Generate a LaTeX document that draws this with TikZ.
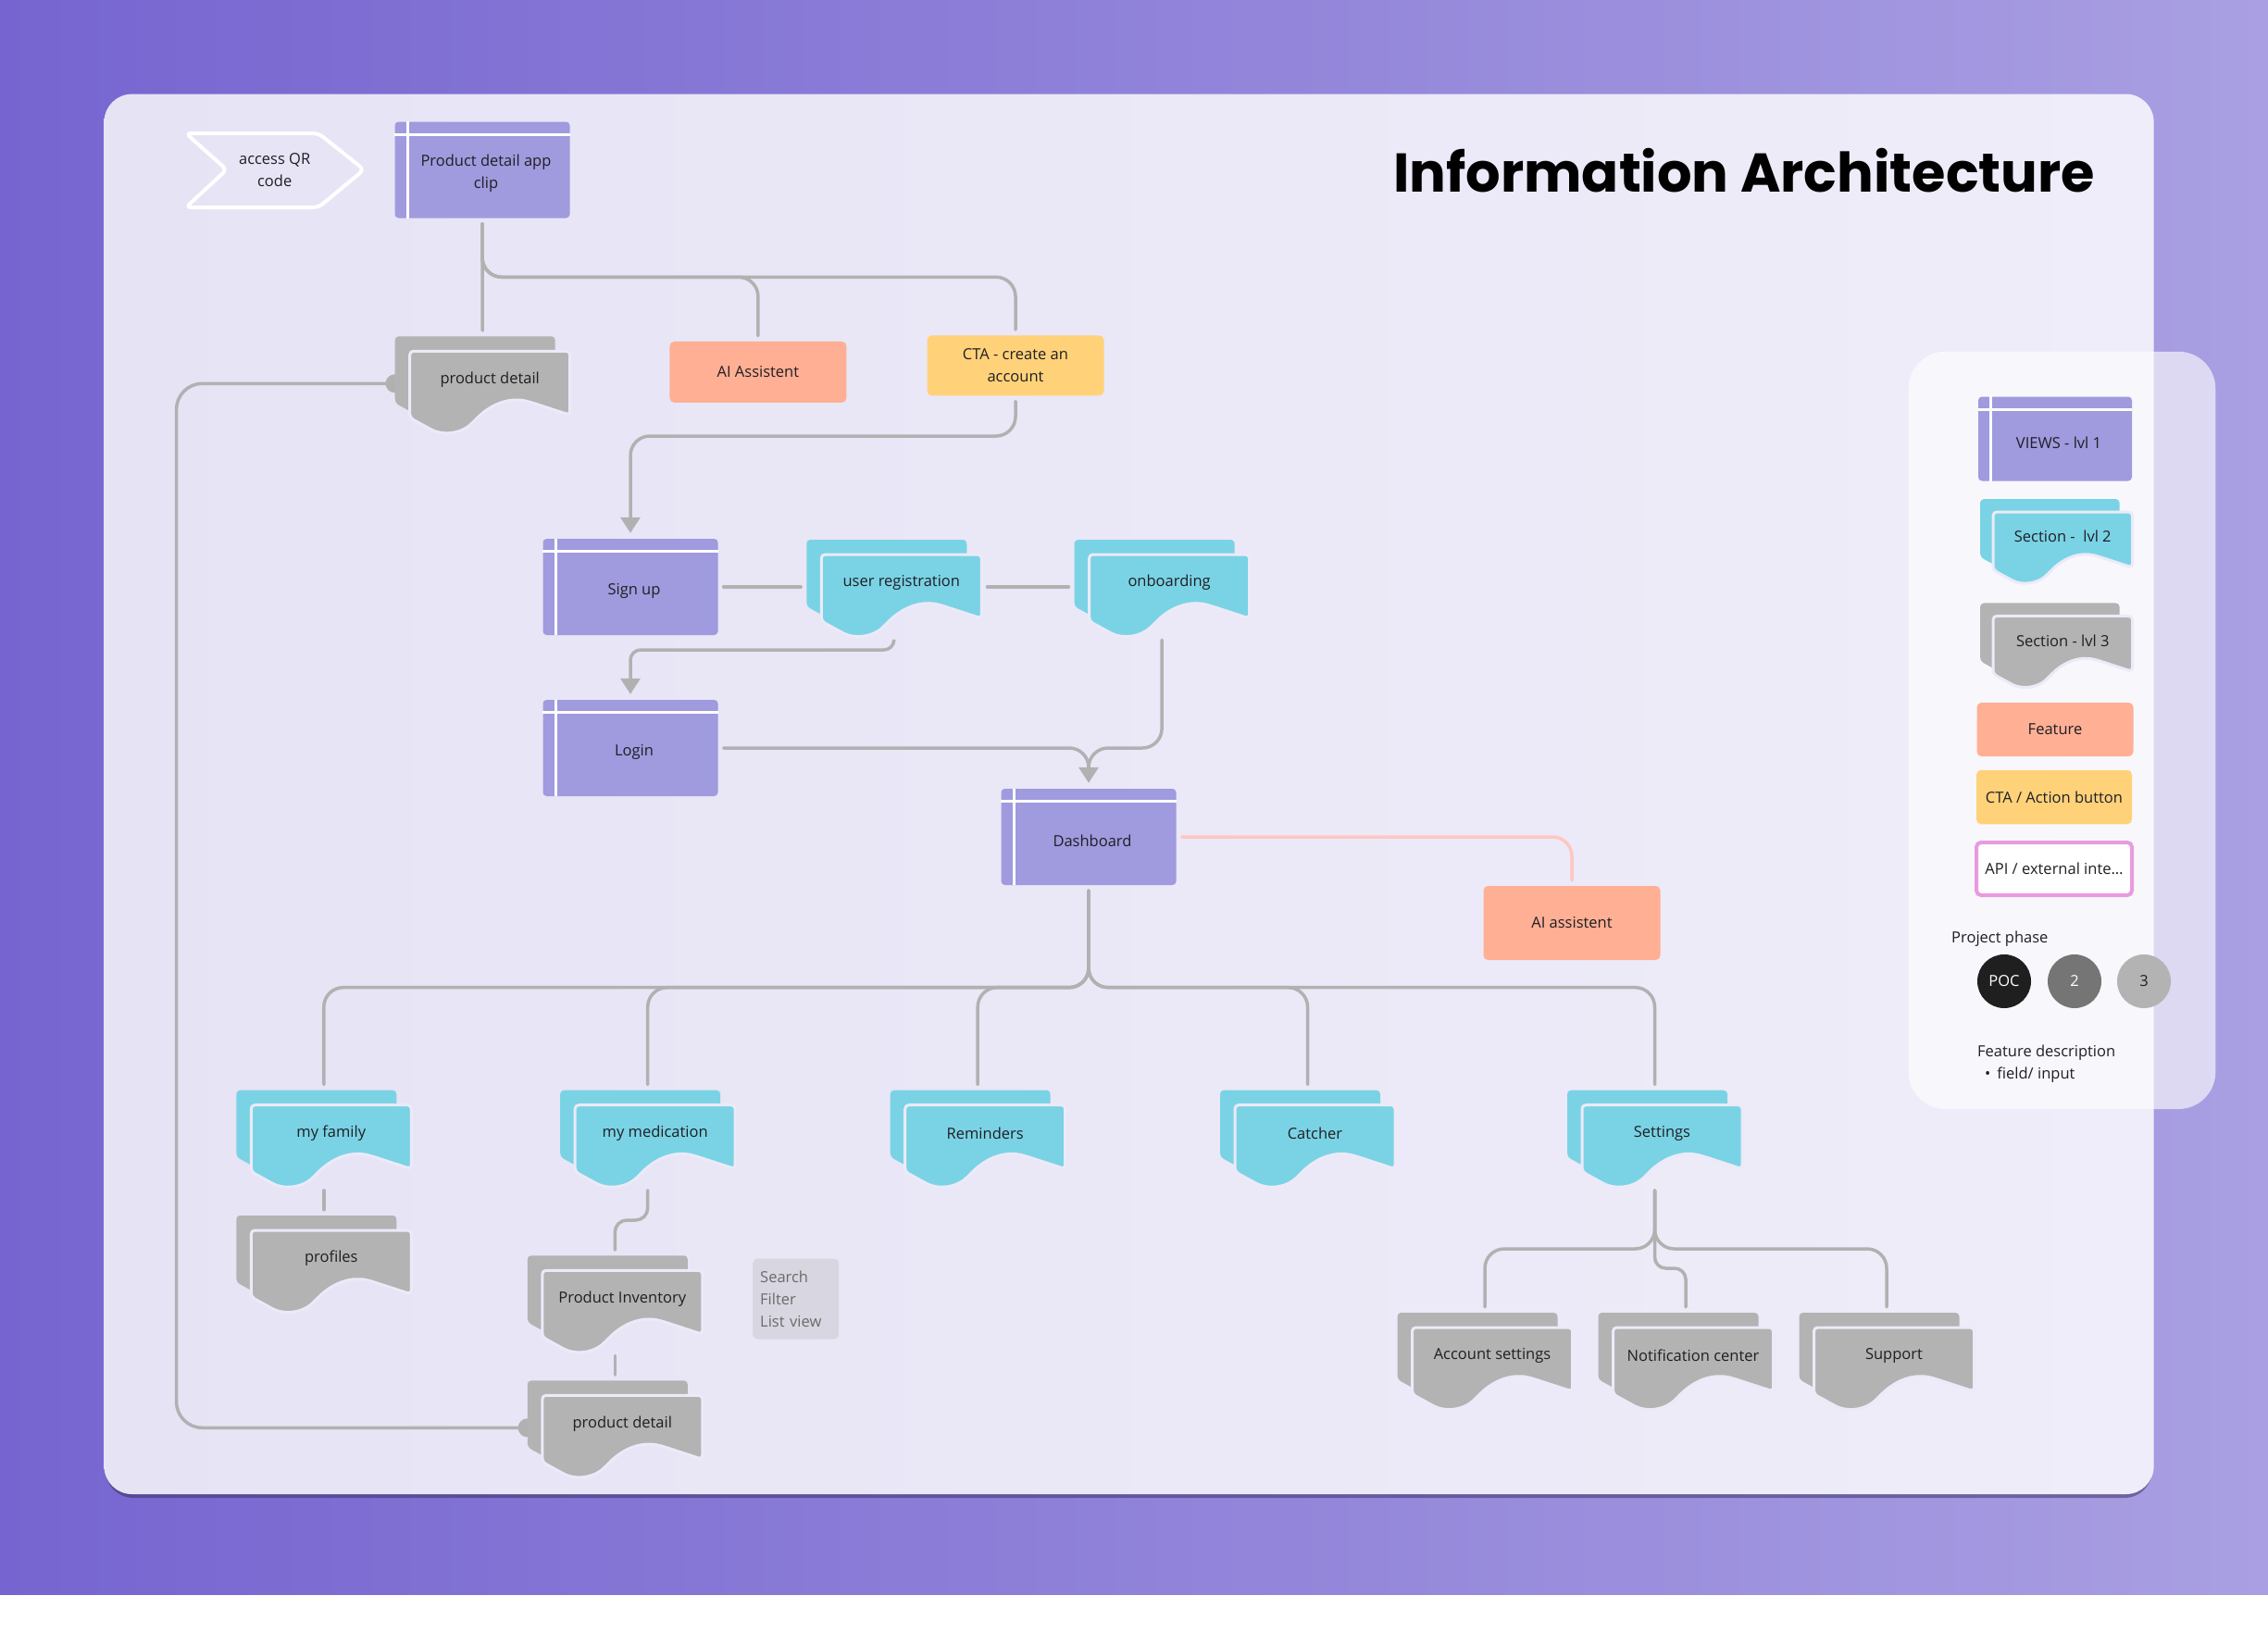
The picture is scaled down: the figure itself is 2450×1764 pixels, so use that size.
\documentclass[tikz,border=0pt]{standalone}
\usepackage{fontspec}
\setmainfont{Open Sans}
\newfontfamily\titlefont{Poppins}
\usetikzlibrary{arrows.meta,calc}

\definecolor{bgleft}{HTML}{7665D0}
\definecolor{bgright}{HTML}{A99FE2}
\definecolor{cardL}{HTML}{E6E3F5}
\definecolor{cardR}{HTML}{EFEDF9}
\definecolor{cardbg}{HTML}{ECEAF8}
\definecolor{viewc}{HTML}{A09ADE}
\definecolor{lvltwo}{HTML}{7AD3E5}
\definecolor{lvlthree}{HTML}{B3B3B3}
\definecolor{featc}{HTML}{FFAF94}
\definecolor{ctac}{HTML}{FFD27A}
\definecolor{apic}{HTML}{E89BDE}
\definecolor{wirec}{HTML}{B1B1B1}
\definecolor{pinkc}{HTML}{FFC6C2}
\definecolor{notec}{HTML}{D8D6E0}
\definecolor{notet}{HTML}{6B6B6B}
\definecolor{txt}{HTML}{1F1F24}

\pgfdeclarelayer{backdrop}
\pgfdeclarelayer{wires}
\pgfsetlayers{backdrop,wires,main}

% card with wavy bottom, front top-left at (0,0)
\newcommand{\docpath}[1]{\path[#1,rounded corners=4pt] (0,72) -- (0,0) -- (173,0) -- (173,69) -- (130,55) .. controls (110,50) and (90,55) .. (70,75) .. controls (55,90) and (35,91) .. (20,83) -- cycle;}

% stacked section card: name, x, y, colour, text, scale
\newcommand{\seccard}[6]{%
  \begin{scope}[shift={(#2,#3)},scale=#6]
    \begin{scope}[shift={(-16,-16)}]\docpath{fill=#4}\end{scope}
    \docpath{fill=#4,draw=cardbg,line width=3pt}
    \node[secarea] (#1) at (78.5,35) {};
    \node[sectext] (#1-t) at (86.5,30.5) {#5};
  \end{scope}}

% view box with window lines: name, x, y, w, h, text
\newcommand{\viewnode}[6]{%
  \node[viewbox,minimum width=#4pt,minimum height=#5pt] (#1) at (#2,#3) {};
  \draw[white,line width=3pt] ([xshift=14pt]#1.north west) -- ([xshift=14pt]#1.south west);
  \draw[white,line width=3pt] ([yshift=-14pt]#1.north west) -- ([yshift=-14pt]#1.north east);
  \node[sectext,align=center] (#1-t) at ([xshift=4pt,yshift=-4pt]#1.center) {#6};}

\begin{document}
\begin{tikzpicture}[x=1pt,y=-1pt,font=\fontsize{16.5}{24}\selectfont]
\tikzstyle{viewbox}=[fill=viewc,rounded corners=4pt,inner sep=0pt]
\tikzstyle{featbox}=[fill=featc,rounded corners=5pt,minimum width=191pt,text=txt,align=center]
\tikzstyle{ctabox}=[fill=ctac,rounded corners=5pt,minimum width=191pt,text=txt,align=center]
\tikzstyle{secarea}=[minimum width=189pt,minimum height=102pt,inner sep=0pt]
\tikzstyle{sectext}=[text=txt,inner sep=0pt]
\tikzstyle{wire}=[draw=wirec,line width=3.5pt,line cap=round,rounded corners=21pt,shorten <=6pt,shorten >=6pt]
\tikzstyle{arr}=[-{Triangle[length=17pt,width=21pt]}]
\tikzstyle{notebox}=[fill=notec,rounded corners=5pt,text=notet,align=left,text width=77pt,inner xsep=8pt,minimum height=87pt]
\tikzstyle{phasedot}=[circle,minimum size=58pt,inner sep=0pt]
\useasboundingbox (0,0) rectangle (2450,1764);

\begin{pgfonlayer}{backdrop}
\fill[white] (0,0) rectangle (2450,1764);
\shade[left color=bgleft,right color=bgright] (0,0) rectangle (2450,1722);
\fill[black!55!bgleft,opacity=.5,rounded corners=30pt] (114,106) rectangle (2325,1618);
\shade[left color=cardL,right color=cardR,rounded corners=30pt] (112.5,101.6) rectangle (2326.6,1614);
\fill[white,opacity=.62,rounded corners=40pt] (2061.7,379.8) rectangle (2393.3,1198);
\end{pgfonlayer}

% title and entry
\node[anchor=base west,inner sep=0pt] (title) at (1505,207.7) {\titlefont\bfseries\fontsize{59}{70}\selectfont Information Architecture};
\draw[white,line width=4pt,rounded corners=6pt] (200.7,144) -- (344,144) -- (393.3,183.3) -- (344,224) -- (200.7,224) -- (245,183.3) -- cycle;
\node[text=txt,align=center] (qr) at (296.7,184) {access QR\\code};

% views
\viewnode{clip}{521}{183.5}{189}{104}{Product detail app\\clip}
\viewnode{signup}{681}{634}{189}{104}{Sign up}
\viewnode{login}{681}{808}{189}{104}{Login}
\viewnode{dash}{1176}{904}{189}{104}{Dashboard}

% features and cta
\node[featbox,minimum height=66pt] (aia) at (818.9,401.9) {AI Assistent};
\node[ctabox,minimum height=65pt] (cta) at (1097,394.8) {CTA - create an\\account};
\node[featbox,minimum height=80pt] (aib) at (1698,997) {AI assistent};

% sections
\seccard{pd1}{442.7}{379.3}{lvlthree}{product detail}{1}
\seccard{ureg}{887.3}{599}{lvltwo}{user registration}{1}
\seccard{onb}{1176.6}{599}{lvltwo}{onboarding}{1}
\seccard{fam}{271.3}{1193.7}{lvltwo}{my family}{1}
\seccard{med}{621.2}{1193.7}{lvltwo}{my medication}{1}
\seccard{rem}{977.7}{1193.7}{lvltwo}{Reminders}{1}
\seccard{catch}{1334}{1193.7}{lvltwo}{Catcher}{1}
\seccard{sett}{1709}{1193.7}{lvltwo}{Settings}{1}
\seccard{prof}{271.3}{1329}{lvlthree}{profiles}{1}
\seccard{inv}{585.8}{1372.3}{lvlthree}{Product Inventory}{1}
\seccard{pd2}{585.8}{1507.3}{lvlthree}{product detail}{1}
\seccard{acc}{1525.5}{1434}{lvlthree}{Account settings}{1}
\seccard{notif}{1742.5}{1434}{lvlthree}{Notification center}{1}
\seccard{sup}{1959.5}{1434}{lvlthree}{Support}{1}
\node[notebox] (notes) at (859.7,1403) {Search\\Filter\\List view};

% legend
\viewnode{lgview}{2220}{474}{166}{91}{VIEWS - lvl 1}
\seccard{lgtwo}{2153}{553}{lvltwo}{Section -\ \ lvl 2}{0.87}
\seccard{lgthree}{2153}{665.4}{lvlthree}{Section - lvl 3}{0.87}
\node[featbox,minimum width=169pt,minimum height=58pt] (lgfeat) at (2220,788) {Feature};
\node[ctabox,minimum width=168pt,minimum height=58.5pt] (lgcta) at (2219,861) {CTA / Action button};
\node[fill=white,draw=apic,line width=4pt,rounded corners=5pt,minimum width=168pt,minimum height=57pt,text=txt] (lgapi) at (2219,938.5) {API / external inte…};
\node[anchor=west,text=txt,inner sep=0pt] (phase) at (2108,1014) {Project phase};
\node[phasedot,fill=black!88,text=white] (poc) at (2165,1060) {POC};
\node[phasedot,fill=black!54,text=white] (ptwo) at (2241,1060) {2};
\node[phasedot,fill=lvlthree,text=txt] (pthree) at (2316,1060) {3};
\node[anchor=west,text=txt,inner sep=0pt] (fdesc) at (2136,1137) {Feature description};
\node[anchor=west,text=txt,inner sep=0pt] (field) at (2144,1161) {•\hspace{7pt}field/ input};

% connectors
\begin{pgfonlayer}{wires}
\coordinate (bus1) at (521,299.3);
\coordinate (bus2) at (681,471);
\coordinate (bus3) at (681,702);
\coordinate (bus4) at (1176,808);
\coordinate (bus5) at (1176,1066.7);
\coordinate (bus6) at (664.3,1318);
\coordinate (bus8) at (1787.5,1349);
\coordinate (bus9) at (1821,1370);
\coordinate (loopx) at (190.6,1000);
\draw[wire] (clip.south) -- (pd1.north);
\draw[wire] (clip.south) -- (bus1) -| (aia.north);
\draw[wire] (clip.south) -- (bus1) -| (cta.north);
\draw[wire,arr] (cta.south) |- (bus2) -- (signup.north);
\draw[wire] (signup.east) -- (ureg.west);
\draw[wire] (ureg.east) -- (onb.west);
\draw[wire,arr,rounded corners=11pt] (ureg.south) |- (bus3) -- (login.north);
\draw[wire,arr] (login.east) -| (dash.north);
\draw[wire,shorten >=22pt] (onb.south) |- (bus4) -- (dash.north);
\draw[wire,draw=pinkc] (dash.east) -| (aib.north);
\foreach \s in {fam,med,rem,catch,sett}
  \draw[wire] (dash.south) -- (bus5) -| (\s.north);
\draw[wire] (fam.south) -- (prof.north);
\draw[wire,rounded corners=13pt] (med.south) |- (bus6) -- (inv.north);
\draw[wire] (inv.south) -- (pd2.north);
\draw[wire,shorten <=0pt,shorten >=0pt,rounded corners=28pt] (pd2.west) -| (loopx) |- (pd1.west);
\fill[wirec] (pd1.west) circle (10pt) (pd2.west) circle (10pt);
\foreach \s in {acc,sup}
  \draw[wire] (sett.south) -- (bus8) -| (\s.north);
\draw[wire,rounded corners=12pt] (sett.south) |- (bus9) -- (notif.north);
\end{pgfonlayer}
\end{tikzpicture}
\end{document}
